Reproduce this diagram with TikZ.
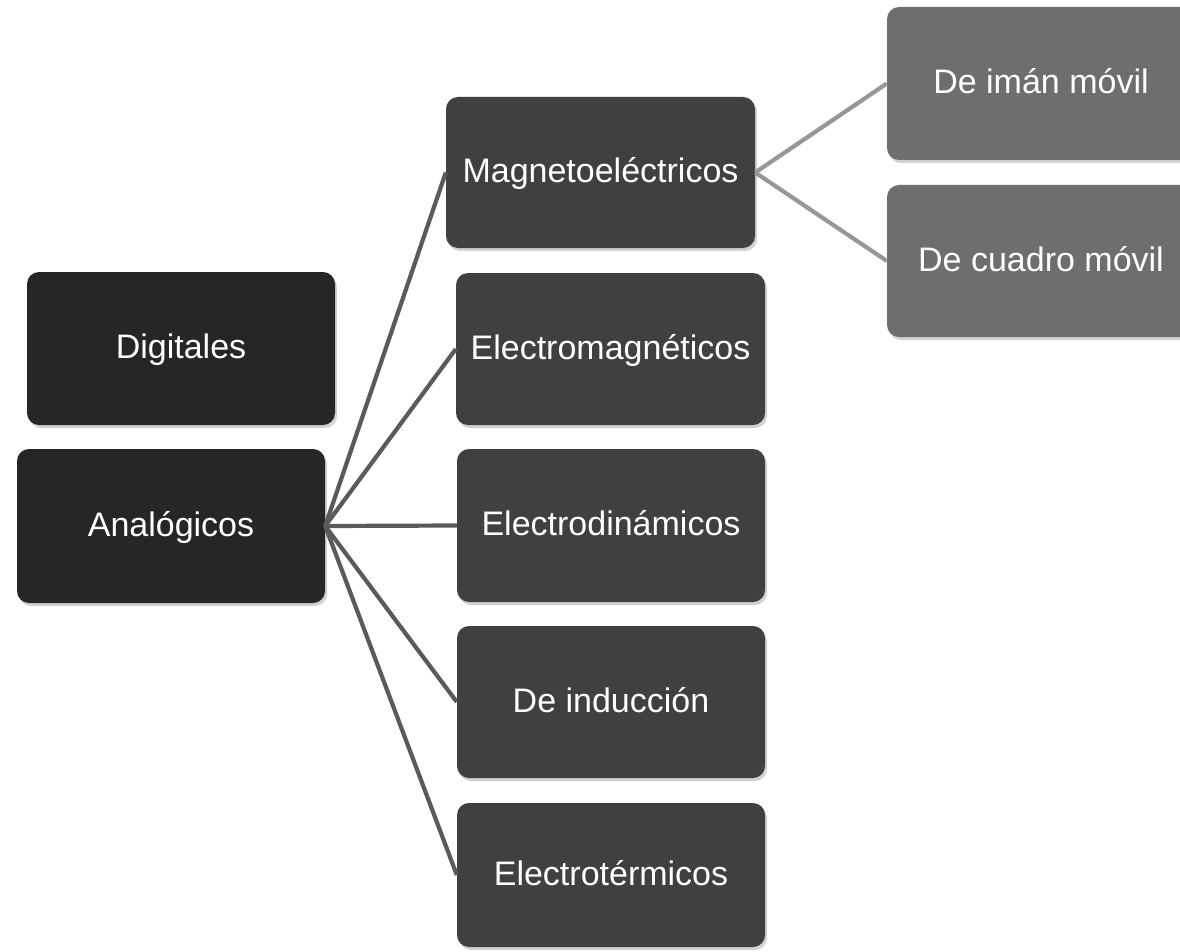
\documentclass[tikz,border=0pt]{standalone}
\usepackage{fontspec}
\setmainfont{Liberation Sans}
\usetikzlibrary{shadows}
\definecolor{darkbox}{HTML}{262626}
\definecolor{midbox}{HTML}{404040}
\definecolor{lightbox}{HTML}{6E6E6E}
\definecolor{linedark}{HTML}{5A5A5A}
\definecolor{linelight}{HTML}{979797}
\tikzset{
  box/.style={rectangle, rounded corners=12pt, draw=none, inner sep=0pt,
    minimum width=308pt, minimum height=152pt, text=white,
    text height=26pt, text depth=6pt,
    font=\fontsize{34}{40}\selectfont,
    drop shadow={opacity=0.35, shadow xshift=2pt, shadow yshift=-3pt}},
  dark/.style={box, fill=darkbox},
  mid/.style={box, fill=midbox},
  light/.style={box, fill=lightbox},
  conndark/.style={draw=linedark, line width=4.2pt},
  connlight/.style={draw=linelight, line width=4.2pt},
}
\begin{document}
\begin{tikzpicture}[x=1pt,y=-1pt]
\useasboundingbox (0,0) rectangle (1180,952);
\clip (0,0) rectangle (1180,952);
\fill[white] (0,0) rectangle (1180,952);

\node[dark, minimum height=153pt] (dig) at (181,348.5) {Digitales};
\node[dark, minimum height=154pt] (ana) at (171,526) {Analógicos};

\node[mid, minimum width=309pt, minimum height=151pt] (mag) at (600.5,172.5) {Magnetoeléctricos};
\node[mid, minimum width=309pt] (emag) at (610.5,349) {Electromagnéticos};
\node[mid, minimum height=153pt] (edin) at (611,525.5) {Electrodinámicos};
\node[mid] (ind) at (611,702) {De inducción};
\node[mid, minimum height=144pt] (eter) at (611,875) {Electrotérmicos};

\node[light, minimum height=153pt] (iman) at (1041,83.5) {De imán móvil};
\node[light] (cuad) at (1041,261) {De cuadro móvil};

\draw[conndark] (ana.east) -- (mag.west);
\draw[conndark] (ana.east) -- (emag.west);
\draw[conndark] (ana.east) -- (edin.west);
\draw[conndark] (ana.east) -- (ind.west);
\draw[conndark] (ana.east) -- (eter.west);

\draw[connlight] (mag.east) -- (iman.west);
\draw[connlight] (mag.east) -- (cuad.west);
\end{tikzpicture}
\end{document}
